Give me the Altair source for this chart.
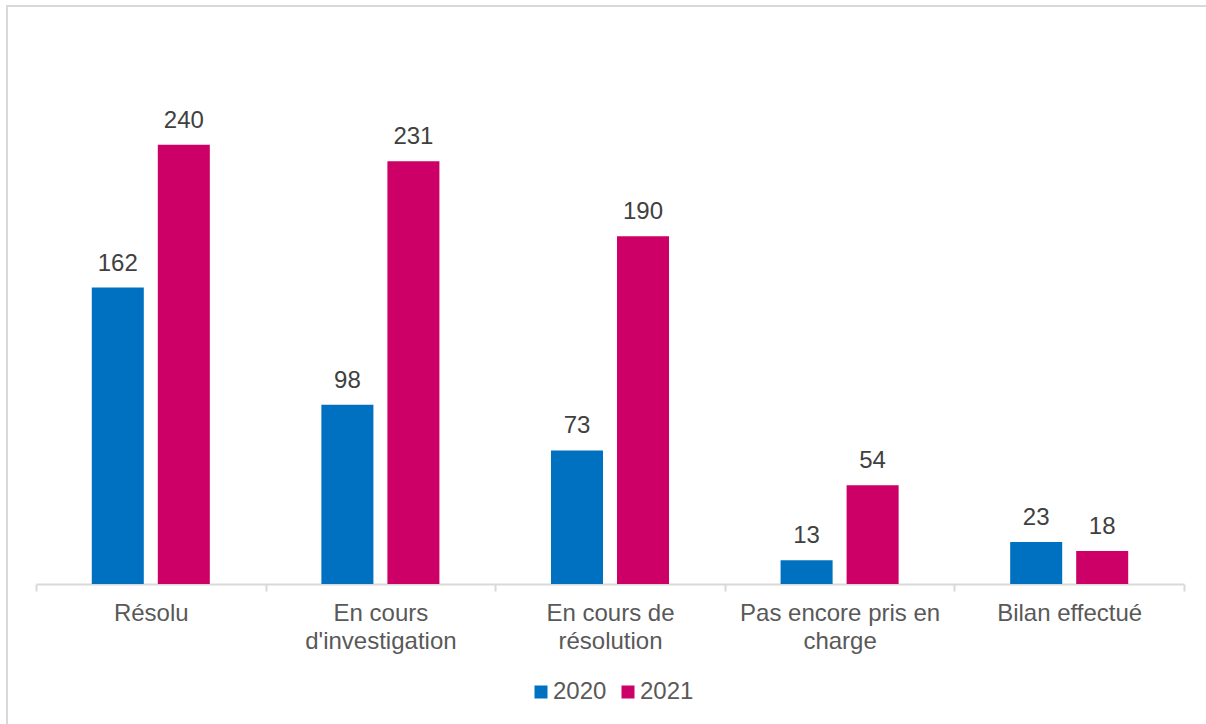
import json
import altair as alt
import pandas as pd

categories = ["Résolu", "En cours d'investigation", "En cours de résolution",
              "Pas encore pris en charge", "Bilan effectué"]
label_lines = [["Résolu"], ["En cours", "d'investigation"], ["En cours de", "résolution"],
               ["Pas encore pris en", "charge"], ["Bilan effectué"]]
years = ["2020", "2021"]
values_2020 = [162, 98, 73, 13, 23]
values_2021 = [240, 231, 190, 54, 18]
colors = ["#0070C0", "#CC0066"]

rows = []
for c, a, b in zip(categories, values_2020, values_2021):
    rows.append({"cat": c, "year": "2020", "value": a})
    rows.append({"cat": c, "year": "2021", "value": b})
df = pd.DataFrame(rows)

mapping = json.dumps({c: l for c, l in zip(categories, label_lines)}, ensure_ascii=False)
label_expr = f"{mapping}[datum.value]"

FONT = "Liberation Sans"

x = alt.X("cat:N", sort=categories, title=None,
          scale=alt.Scale(paddingInner=0, paddingOuter=0),
          axis=alt.Axis(labelExpr=label_expr, labelAngle=0, labelFontSize=24,
                        labelColor="#595959", labelFont=FONT, labelPadding=10,
                        labelLineHeight=28, tickBand="extent", tickSize=7,
                        tickColor="#D9D9D9", domainColor="#D9D9D9", domainWidth=2,
                        tickWidth=2, labelLimit=300))
xo = alt.XOffset("year:N", sort=years,
                 scale=alt.Scale(paddingInner=0.212, paddingOuter=0.845))
y = alt.Y("value:Q", scale=alt.Scale(domain=[0, 300], nice=False), axis=None)

base = alt.Chart(df)
bars = base.mark_bar().encode(
    x=x, xOffset=xo, y=y,
    color=alt.Color("year:N", sort=years,
                    scale=alt.Scale(domain=years, range=colors),
                    legend=alt.Legend(title=None, orient="none", direction="horizontal",
                                      legendX=493, legendY=645, padding=0,
                                      symbolType="square",
                                      symbolSize=169, symbolStrokeWidth=0,
                                      labelFontSize=24, labelColor="#595959",
                                      labelFont=FONT, columnPadding=9, labelOffset=0)),
)
labels = base.mark_text(baseline="alphabetic", dy=-17, fontSize=24,
                        color="#404040", font=FONT).encode(
    x=x, xOffset=xo, y=y, text="value:Q")

border_top = alt.Chart(pd.DataFrame({"k": [0]})).mark_rule(color="#D9D9D9", strokeWidth=2).encode(
    x=alt.value(-30), x2=alt.value(1170), y=alt.value(-29))
border_left = alt.Chart(pd.DataFrame({"k": [0]})).mark_rule(color="#D9D9D9", strokeWidth=2).encode(
    x=alt.value(-29), y=alt.value(-30), y2=alt.value(700))

chart = alt.layer(border_top, border_left, bars, labels).properties(
    width=1148, height=549,
    background="white",
    autosize=alt.AutoSizeParams(type="none"),
    padding={"left": 36, "top": 35, "right": 22, "bottom": 140},
).configure_view(strokeWidth=0)

chart.save("out.html", embed_options={"renderer": "svg", "actions": False})
